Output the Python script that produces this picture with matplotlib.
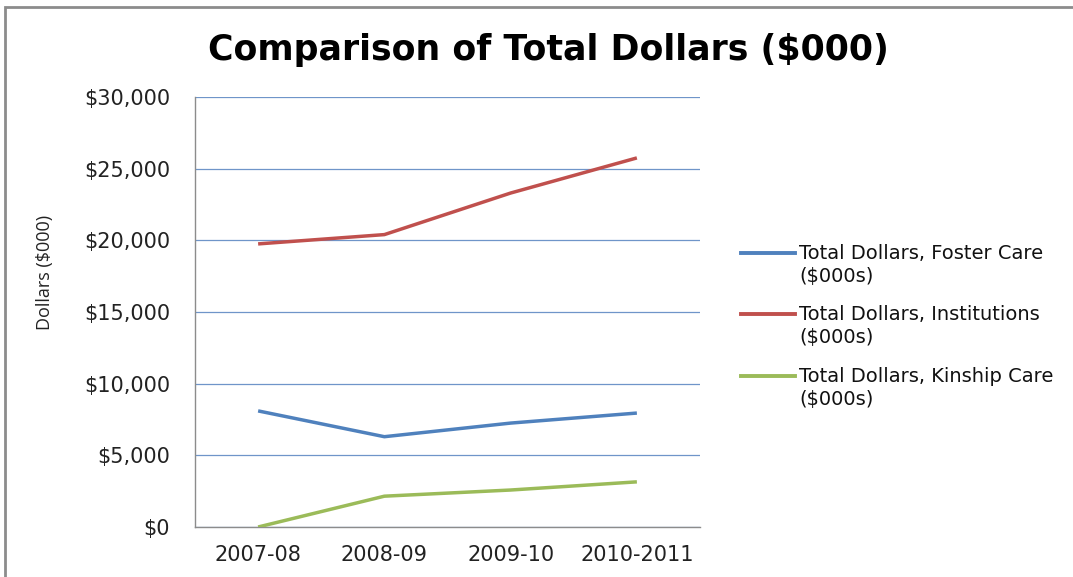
import matplotlib
matplotlib.use("Agg")
import matplotlib.pyplot as plt
from matplotlib.lines import Line2D
from matplotlib.patches import Rectangle
from matplotlib.ticker import FuncFormatter

plt.rcParams['font.family'] = ['DejaVu Sans']

categories = ["2007-08", "2008-09", "2009-10", "2010-2011"]
foster_care = [8100, 6300, 7250, 7950]
institutions = [19750, 20400, 23300, 25750]
kinship_care = [0, 2150, 2580, 3150]
labels = ["Total Dollars, Foster Care", "Total Dollars, Institutions", "Total Dollars, Kinship Care"]
colors = ["#4F81BD", "#C0504D", "#9BBB59"]
yticks = [0, 5000, 10000, 15000, 20000, 25000, 30000]

W, H = 1073, 577
fig = plt.figure(figsize=(W / 100, H / 100), dpi=100)
fig.patch.set_facecolor("white")

# outer frame
fig.add_artist(Rectangle((5 / W, -0.01), 1.2, 1 - 7 / H + 0.01, transform=fig.transFigure,
                         fill=False, edgecolor="#8C8C8C", linewidth=2.0))

ax = fig.add_axes([195 / W, 50 / H, 505 / W, 430 / H])
x = [i + 0.5 for i in range(len(categories))]
series = [foster_care, institutions, kinship_care]
for vals, c in zip(series, colors):
    ax.plot(x, vals, color=c, linewidth=2.5, solid_capstyle="butt", zorder=3)

ax.set_xlim(0, len(categories))
ax.set_ylim(0, 30000)
ax.set_yticks(yticks)
ax.yaxis.set_major_formatter(FuncFormatter(lambda v, p: "${:,.0f}".format(v)))
ax.set_xticks(x)
ax.set_xticklabels(categories)
ax.tick_params(axis="y", length=0, pad=18, labelsize=15, colors="#222222")
ax.tick_params(axis="x", length=0, pad=13, labelsize=15, colors="#222222")
ax.grid(axis="y", color="#6F95C9", linewidth=0.9)
ax.set_axisbelow(True)
for s in ["top", "right"]:
    ax.spines[s].set_visible(False)
for s in ["left", "bottom"]:
    ax.spines[s].set_color("#8C8C8C")
    ax.spines[s].set_linewidth(1.0)

fig.text(45 / W, 1 - 272 / H, "Dollars ($000)", rotation=90, ha="center", va="center",
         fontsize=13, family=["Open Sans", "DejaVu Sans"], color="#222222")

fig.text(548 / W, 1 - 50 / H, "Comparison of Total Dollars ($000)", ha="center", va="center",
         fontsize=25, fontweight="bold", color="black")

# legend
ys = [253, 314, 376]
for lab, c, yy in zip(labels, colors, ys):
    fig.add_artist(Line2D([741 / W, 795 / W], [1 - yy / H, 1 - yy / H], color=c, linewidth=2.8,
                          transform=fig.transFigure))
    fig.text(799 / W, 1 - yy / H, lab, ha="left", va="center", fontsize=14, color="#111111")
    fig.text(799 / W, 1 - (yy + 24) / H, "($000s)", ha="left", va="center", fontsize=14,
             color="#111111")

fig.savefig("out.png", dpi=100)
